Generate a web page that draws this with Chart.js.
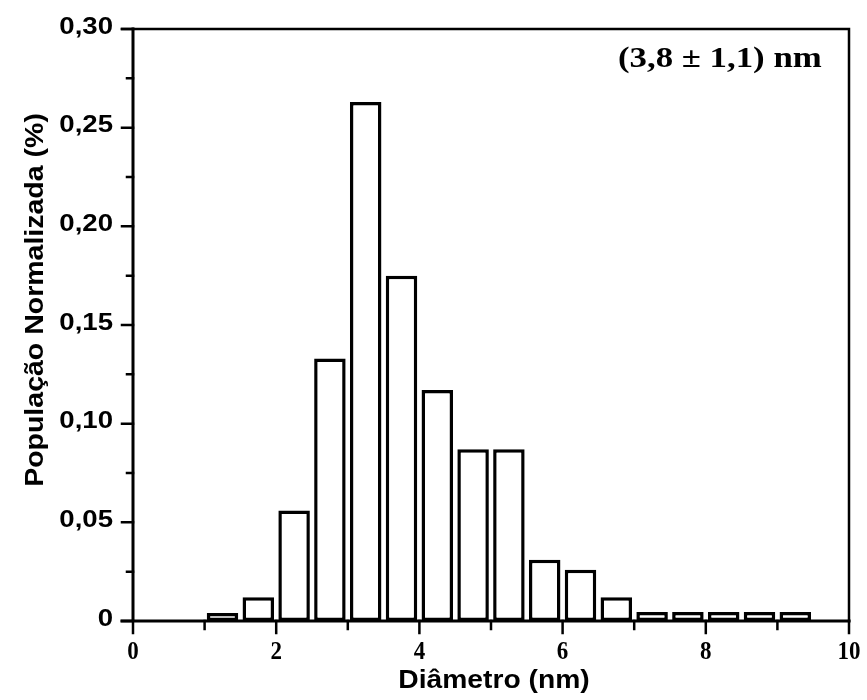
<!DOCTYPE html>
<html>
<head>
<meta charset="utf-8">
<script src="https://cdn.jsdelivr.net/npm/chart.js@4.4.1/dist/chart.umd.min.js"></script>
<style>
  html, body { margin: 0; padding: 0; background: #fff; }
  #wrap { width: 867px; height: 700px; }
</style>
</head>
<body>
<div id="wrap"><canvas id="chart" width="867" height="700"></canvas></div>
<script>
// histogram bins (left edge, nm) and normalized population
const binStarts = [1, 1.5, 2, 2.5, 3, 3.5, 4, 4.5, 5, 5.5, 6, 6.5, 7, 7.5, 8, 8.5, 9]
const population = [0.004, 0.012, 0.056, 0.133, 0.263, 0.175, 0.117, 0.087, 0.087, 0.031, 0.026, 0.012, 0.0045, 0.0045, 0.0045, 0.0045, 0.0045]
const binWidth = 0.5

const xTicks = [0, 2, 4, 6, 8, 10]
const xMinorTicks = [1, 3, 5, 7, 9]
const yTicks = [0, 0.05, 0.10, 0.15, 0.20, 0.25, 0.30]
const yTickLabels = ['0', '0,05', '0,10', '0,15', '0,20', '0,25', '0,30']
const yMinorTicks = [0.025, 0.075, 0.125, 0.175, 0.225, 0.275]

const xTitle = 'Diâmetro (nm)'
const yTitle = 'População Normalizada (%)'
const note = '(3,8 ± 1,1) nm'

const SANS = '"Liberation Sans", Arial, sans-serif'
const SERIF = '"Liberation Serif", "Times New Roman", serif'

function drawText(ctx, str, x, y, font, align, sx, sy, rot) {
  ctx.save()
  ctx.translate(x, y)
  if (rot) ctx.rotate(rot)
  ctx.scale(sx || 1, sy || 1)
  ctx.font = font
  ctx.textAlign = align
  ctx.textBaseline = 'alphabetic'
  ctx.fillStyle = '#000'
  ctx.fillText(str, 0, 0)
  ctx.restore()
}

// frame, ticks and labels drawn on top of the bars
const framePlugin = {
  id: 'frame',
  afterDatasetsDraw(chart) {
    const ctx = chart.ctx
    const x = chart.scales.x
    const y = chart.scales.y
    const a = chart.chartArea
    ctx.save()
    ctx.strokeStyle = '#000'
    ctx.lineCap = 'square'

    // top and right border
    ctx.lineWidth = 2.5
    ctx.beginPath()
    ctx.moveTo(a.left - 11, a.top)
    ctx.lineTo(a.right, a.top)
    ctx.lineTo(a.right, a.bottom)
    ctx.stroke()

    // axes
    ctx.lineWidth = 3
    ctx.beginPath()
    ctx.moveTo(a.left, a.top)
    ctx.lineTo(a.left, a.bottom)
    ctx.moveTo(a.left - 11, a.bottom)
    ctx.lineTo(a.right, a.bottom)
    ctx.stroke()

    // y ticks
    ctx.lineWidth = 2.5
    ctx.beginPath()
    yTicks.forEach(v => {
      const py = y.getPixelForValue(v)
      ctx.moveTo(a.left - 11, py)
      ctx.lineTo(a.left, py)
    })
    yMinorTicks.forEach(v => {
      const py = y.getPixelForValue(v)
      ctx.moveTo(a.left - 6, py)
      ctx.lineTo(a.left, py)
    })
    // x ticks
    xTicks.forEach(v => {
      const px = x.getPixelForValue(v)
      ctx.moveTo(px, a.bottom)
      ctx.lineTo(px, a.bottom + 12)
    })
    xMinorTicks.forEach(v => {
      const px = x.getPixelForValue(v)
      ctx.moveTo(px, a.bottom)
      ctx.lineTo(px, a.bottom + 8)
    })
    ctx.stroke()
    ctx.restore()

    yTicks.forEach((v, i) => {
      drawText(ctx, yTickLabels[i], a.left - 20, y.getPixelForValue(v) + 4.5, 'bold 23px ' + SANS, 'right', 1.2, 1)
    })
    xTicks.forEach(v => {
      drawText(ctx, String(v), x.getPixelForValue(v), a.bottom + 38, 'bold 25px ' + SERIF, 'center', 0.92, 1)
    })

    drawText(ctx, xTitle, (a.left + a.right) / 2 + 3, 688, 'bold 25px ' + SANS, 'center', 1.13, 1)
    drawText(ctx, yTitle, 43, 300, 'bold 25px ' + SANS, 'center', 1.14, 1, -Math.PI / 2)
    drawText(ctx, note, 618, 67, 'bold 29px ' + SERIF, 'left', 1.2, 1)
  }
}

const ctx = document.getElementById('chart').getContext('2d')
new Chart(ctx, {
  type: 'bar',
  data: {
    datasets: [{
      label: 'População',
      data: binStarts.map((s, i) => ({ x: s + binWidth / 2, y: population[i] })),
      backgroundColor: '#fff',
      borderColor: '#000',
      borderWidth: 3.5,
      borderSkipped: false,
      barPercentage: 0.88,
      categoryPercentage: 1
    }]
  },
  options: {
    responsive: false,
    animation: false,
    layout: { padding: { left: 133, top: 29, right: 18, bottom: 79 } },
    scales: {
      x: { type: 'linear', min: 0, max: 10, offset: false, display: false },
      y: { min: 0, max: 0.30, display: false }
    },
    plugins: {
      legend: { display: false },
      tooltip: { enabled: false }
    }
  },
  plugins: [framePlugin]
})
</script>
</body>
</html>
